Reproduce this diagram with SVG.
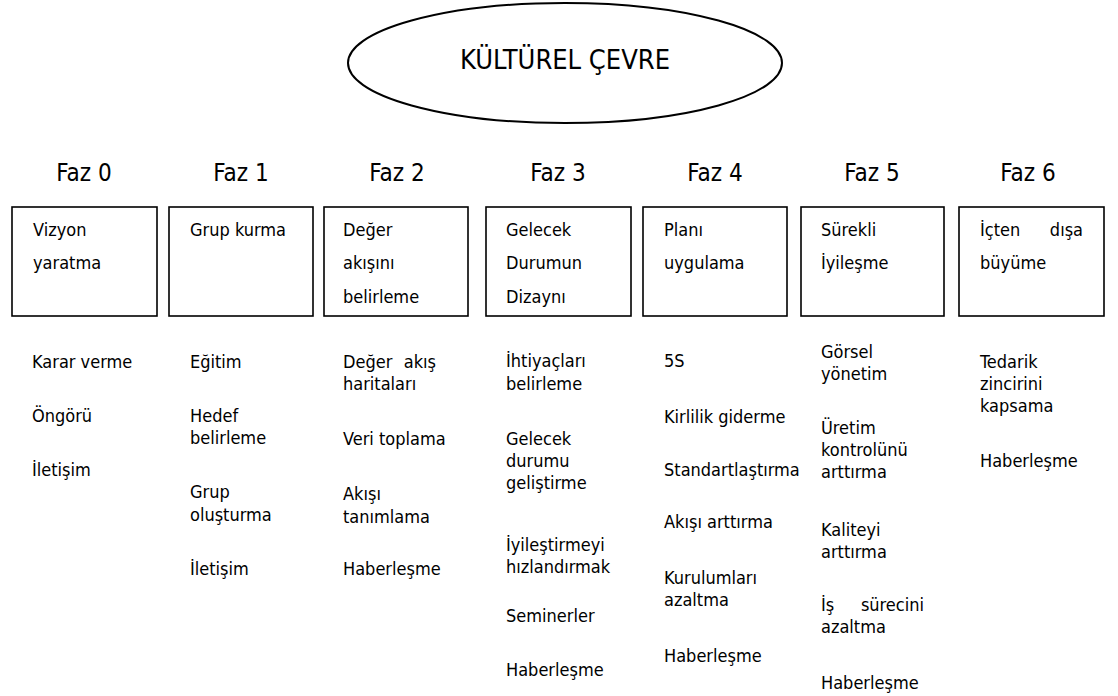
<svg xmlns="http://www.w3.org/2000/svg" width="1118" height="696" viewBox="0 0 1118 696">
  <style>
    text { font-family: "DejaVu Sans Condensed", "DejaVu Sans", sans-serif; font-stretch: condensed; fill: #000; }
    .title { font-size: 27px; }
    .phase { font-size: 24px; text-anchor: middle; }
    .box { fill: #fff; stroke: #000; stroke-width: 1.6; }
    .bt { font-size: 18px; }
    .it { font-size: 18px; }
  </style>
  <rect width="1118" height="696" fill="#fff"/>

  <!-- central ellipse -->
  <g id="kultur">
    <ellipse cx="565" cy="63" rx="217" ry="60" fill="#fff" stroke="#000" stroke-width="2"/>
    <text class="title" x="565" y="69" text-anchor="middle">KÜLTÜREL ÇEVRE</text>
  </g>

  <g id="connectors"></g>

  <!-- phase headers -->
  <g id="phase-labels">
    <text class="phase" x="84" y="181">Faz 0</text>
    <text class="phase" x="241" y="181">Faz 1</text>
    <text class="phase" x="397" y="181">Faz 2</text>
    <text class="phase" x="558" y="181">Faz 3</text>
    <text class="phase" x="715" y="181">Faz 4</text>
    <text class="phase" x="872" y="181">Faz 5</text>
    <text class="phase" x="1028" y="181">Faz 6</text>
  </g>

  <!-- phase boxes -->
  <g id="faz0">
    <rect class="box" x="12" y="207" width="145" height="109"/>
    <text class="bt" x="33" y="236">Vizyon</text>
    <text class="bt" x="33" y="269">yaratma</text>
  </g>
  <g id="faz1">
    <rect class="box" x="169" y="207" width="144" height="109"/>
    <text class="bt" x="190" y="236">Grup kurma</text>
  </g>
  <g id="faz2">
    <rect class="box" x="324" y="207" width="144" height="109"/>
    <text class="bt" x="343" y="236">Değer</text>
    <text class="bt" x="343" y="269">akışını</text>
    <text class="bt" x="343" y="303">belirleme</text>
  </g>
  <g id="faz3">
    <rect class="box" x="486" y="207" width="145" height="109"/>
    <text class="bt" x="506" y="236">Gelecek</text>
    <text class="bt" x="506" y="269">Durumun</text>
    <text class="bt" x="506" y="303">Dizaynı</text>
  </g>
  <g id="faz4">
    <rect class="box" x="643" y="207" width="144" height="109"/>
    <text class="bt" x="664" y="236">Planı</text>
    <text class="bt" x="664" y="269">uygulama</text>
  </g>
  <g id="faz5">
    <rect class="box" x="801" y="207" width="143" height="109"/>
    <text class="bt" x="821" y="236">Sürekli</text>
    <text class="bt" x="821" y="269">İyileşme</text>
  </g>
  <g id="faz6">
    <rect class="box" x="959" y="207" width="145" height="109"/>
    <text class="bt" x="980" y="236">İçten</text>
    <text class="bt" x="1083" y="236" text-anchor="end">dışa</text>
    <text class="bt" x="980" y="269">büyüme</text>
  </g>

  <!-- activity lists -->
  <g id="list0">
    <text class="it" x="32" y="368">Karar verme</text>
    <text class="it" x="32" y="422">Öngörü</text>
    <text class="it" x="32" y="476">İletişim</text>
  </g>
  <g id="list1">
    <text class="it" x="190" y="368">Eğitim</text>
    <text class="it" x="190" y="422">Hedef</text>
    <text class="it" x="190" y="444">belirleme</text>
    <text class="it" x="190" y="498">Grup</text>
    <text class="it" x="190" y="521">oluşturma</text>
    <text class="it" x="190" y="575">İletişim</text>
  </g>
  <g id="list2">
    <text class="it" x="343" y="368">Değer</text>
    <text class="it" x="436" y="368" text-anchor="end">akış</text>
    <text class="it" x="343" y="390">haritaları</text>
    <text class="it" x="343" y="445">Veri toplama</text>
    <text class="it" x="343" y="500">Akışı</text>
    <text class="it" x="343" y="523">tanımlama</text>
    <text class="it" x="343" y="575">Haberleşme</text>
  </g>
  <g id="list3">
    <text class="it" x="506" y="367">İhtiyaçları</text>
    <text class="it" x="506" y="390">belirleme</text>
    <text class="it" x="506" y="445">Gelecek</text>
    <text class="it" x="506" y="467">durumu</text>
    <text class="it" x="506" y="489">geliştirme</text>
    <text class="it" x="506" y="551">İyileştirmeyi</text>
    <text class="it" x="506" y="573">hızlandırmak</text>
    <text class="it" x="506" y="622">Seminerler</text>
    <text class="it" x="506" y="676">Haberleşme</text>
  </g>
  <g id="list4">
    <text class="it" x="664" y="367">5S</text>
    <text class="it" x="664" y="423">Kirlilik giderme</text>
    <text class="it" x="664" y="476">Standartlaştırma</text>
    <text class="it" x="664" y="528">Akışı arttırma</text>
    <text class="it" x="664" y="584">Kurulumları</text>
    <text class="it" x="664" y="606">azaltma</text>
    <text class="it" x="664" y="662">Haberleşme</text>
  </g>
  <g id="list5">
    <text class="it" x="821" y="358">Görsel</text>
    <text class="it" x="821" y="380">yönetim</text>
    <text class="it" x="821" y="434">Üretim</text>
    <text class="it" x="821" y="456">kontrolünü</text>
    <text class="it" x="821" y="478">arttırma</text>
    <text class="it" x="821" y="536">Kaliteyi</text>
    <text class="it" x="821" y="558">arttırma</text>
    <text class="it" x="821" y="611">İş</text>
    <text class="it" x="924" y="611" text-anchor="end">sürecini</text>
    <text class="it" x="821" y="633">azaltma</text>
    <text class="it" x="821" y="689">Haberleşme</text>
  </g>
  <g id="list6">
    <text class="it" x="980" y="368">Tedarik</text>
    <text class="it" x="980" y="390">zincirini</text>
    <text class="it" x="980" y="412">kapsama</text>
    <text class="it" x="980" y="467">Haberleşme</text>
  </g>
</svg>
